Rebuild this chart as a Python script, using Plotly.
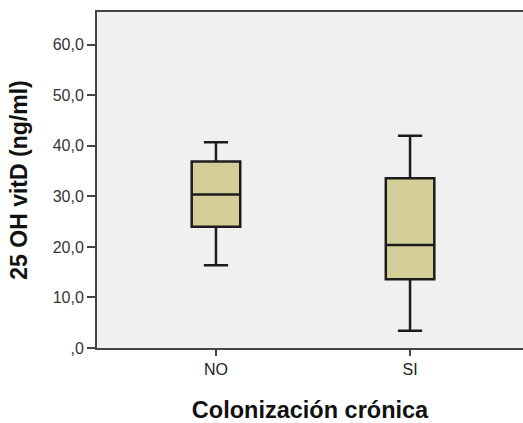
import plotly.graph_objects as go

# Grupos de colonización crónica y resumen de cinco números de 25 OH vitD (ng/ml)
categorias = ["NO", "SI"]
bigote_inf = [16.4, 3.4]
q1 = [24.0, 13.6]
mediana = [30.4, 20.4]
q3 = [36.9, 33.6]
bigote_sup = [40.7, 42.0]

ticks_y = [0, 10, 20, 30, 40, 50, 60]
etiquetas_y = [",0", "10,0", "20,0", "30,0", "40,0", "50,0", "60,0"]

fig = go.Figure()
fig.add_trace(go.Box(
    x=categorias,
    q1=q1,
    median=mediana,
    q3=q3,
    lowerfence=bigote_inf,
    upperfence=bigote_sup,
    width=0.25,
    whiskerwidth=0.5,
    fillcolor="#d3ce97",
    line=dict(color="#1c1c1c", width=2.5),
    boxpoints=False,
    hoverinfo="skip",
    showlegend=False,
))

fig.update_layout(
    width=523,
    height=423,
    margin=dict(l=97, r=0, t=12, b=75),
    paper_bgcolor="white",
    plot_bgcolor="#f0f0f0",
    font=dict(family="Liberation Sans, Arial, sans-serif", color="#222222"),
    showlegend=False,
)

fig.update_xaxes(
    type="category",
    range=[-0.613, 1.582],
    showgrid=False,
    zeroline=False,
    showline=True,
    linecolor="#444444",
    linewidth=2,
    mirror=True,
    ticks="outside",
    ticklen=6,
    tickwidth=2,
    tickcolor="#444444",
    tickfont=dict(size=16, color="#222222"),
    title=dict(
        text="<b>Colonización crónica</b>",
        font=dict(size=23.5, color="#111111"),
        standoff=25,
    ),
)

fig.update_yaxes(
    range=[0, 66.5],
    tickvals=ticks_y,
    ticktext=etiquetas_y,
    showgrid=False,
    zeroline=False,
    showline=True,
    linecolor="#444444",
    linewidth=2,
    ticks="outside",
    ticklen=8,
    tickwidth=2,
    tickcolor="#444444",
    tickfont=dict(size=16, color="#333333"),
    title=dict(
        text="<b>25 OH vitD (ng/ml)</b>",
        font=dict(size=23, color="#111111"),
        standoff=19,
    ),
)

fig.write_html("out.html")
